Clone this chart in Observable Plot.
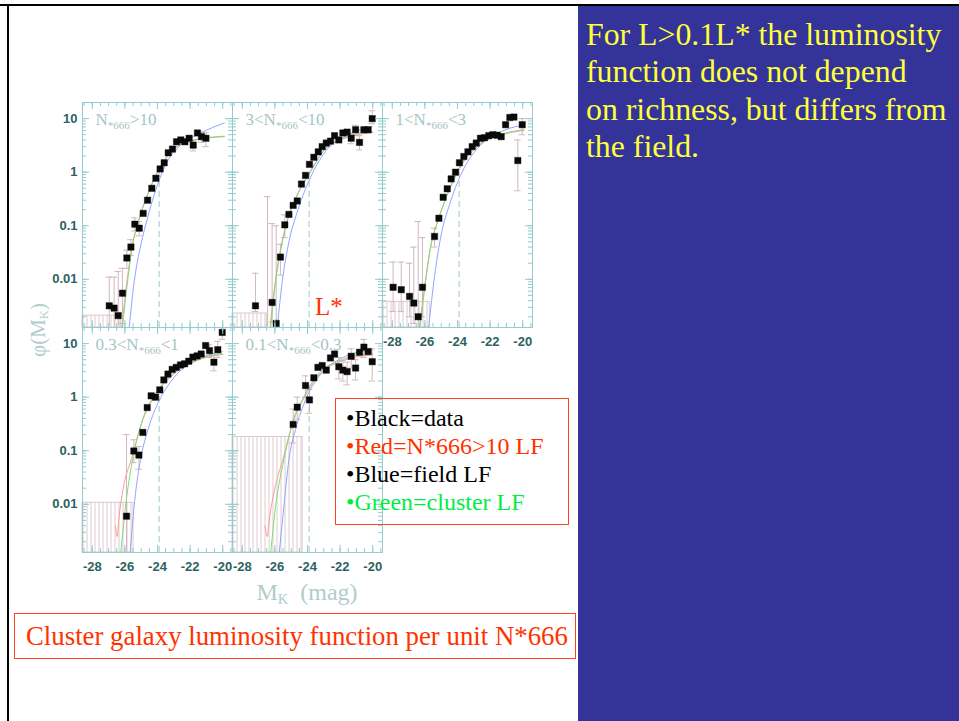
<!DOCTYPE html>
<html>
<head>
<meta charset="utf-8">
<script src="https://cdn.jsdelivr.net/npm/d3@7"></script>
<script src="https://cdn.jsdelivr.net/npm/@observablehq/plot@0.6"></script>
<style>
html,body{margin:0;padding:0;background:#fff;}
#slide{position:relative;width:959px;height:721px;overflow:hidden;background:#fff;font-family:"Liberation Serif","Times New Roman",serif;}
#topline{position:absolute;left:0;top:4px;width:959px;height:2px;background:#000;}
#leftline{position:absolute;left:7px;top:4px;width:2px;height:717px;background:#000;}
#bluepanel{position:absolute;left:578px;top:6px;width:381px;height:715px;background:#333399;}
#bluetext{position:absolute;left:8px;top:9.5px;color:#ffff3c;font-size:31.8px;line-height:37.5px;white-space:nowrap;}
.panel{position:absolute;}
#ylabel{position:absolute;left:41px;top:330px;transform:translate(-50%,-50%) rotate(-90deg);font-size:21px;color:#b0cccc;white-space:nowrap;line-height:24px;}
#xlabel{position:absolute;left:307px;top:580px;transform:translateX(-50%);font-size:24px;color:#b0cccc;white-space:nowrap;line-height:24px;}
.sub{font-size:0.6em;vertical-align:-0.25em;}
#lstar{position:absolute;left:315px;top:294px;font-size:25px;line-height:25px;color:#ff3300;}
#legend{position:absolute;left:335px;top:398px;width:234px;height:127px;box-sizing:border-box;border:1px solid #ff4422;padding:5px 0 0 10px;font-size:24px;line-height:28.1px;white-space:nowrap;}
#caption{position:absolute;left:14px;top:613px;width:562px;height:46px;box-sizing:border-box;border:1px solid #ff4422;padding-left:11px;font-size:26.8px;line-height:44px;color:#ff3300;white-space:nowrap;}
</style>
</head>
<body>
<svg width="0" height="0" style="position:absolute">
  <defs>
    <pattern id="hatch" patternUnits="userSpaceOnUse" width="4" height="10">
      <line x1="2" y1="0" x2="2" y2="10" stroke="#dcc4ca" stroke-width="0.9"></line>
    </pattern>
  </defs>
</svg>
<div id="slide">
  <div id="topline"></div>
  <div id="leftline"></div>
  <div id="bluepanel"><div id="bluetext">For L&gt;0.1L* the luminosity<br>function does not depend<br>on richness, but differs from<br>the field.</div></div>
  <div id="panels"></div>
  <div id="ylabel">φ(M<span class="sub">K</span>)</div>
  <div id="xlabel">M<span class="sub">K</span>&nbsp;&nbsp;(mag)</div>
  <div id="lstar">L*</div>
  <div id="legend">
    <div style="color:#000">•Black=data</div>
    <div style="color:#ff3300">•Red=N*666&gt;10 LF</div>
    <div style="color:#000">•Blue=field LF</div>
    <div style="color:#00ee44">•Green=cluster LF</div>
  </div>
  <div id="caption">Cluster galaxy luminosity function per unit N*666</div>
</div>
<script>
// ---------- data ----------
const panelLabels = ["N_*666>10", "3<N_*666<10", "1<N_*666<3", "0.3<N_*666<1", "0.1<N_*666<0.3"];
const xTickLabels = [-28, -26, -24, -22, -20];
const yTickLabels = [0.01, 0.1, 1, 10];
const xDomain = [-28.6, -19.4];
const yDomain = [0.00126, 20];
const LSTAR = -23.9;
const lstarTop = 1.0;

// panel 1: N*666 > 10
const p1Mag = [-26.96,-26.66,-26.41,-26.15,-25.88,-25.63,-25.39,-25.12,-24.88,-24.61,-24.35,-24.10,-23.84,-23.59,-23.34,-23.08,-22.83,-22.57,-22.32,-22.06,-21.81,-21.55,-21.30,-21.03];
const p1Phi = [0.0032,0.0029,0.0021,0.0055,0.025,0.040,0.107,0.090,0.17,0.30,0.50,0.77,1.15,1.5,2.3,2.7,3.7,4.0,3.7,4.3,3.2,5.4,4.6,4.3];
const p1ErrMag = [-26.96,-26.66,-26.41,-26.15,-25.88,-25.63,-25.39,-25.12,-21.81,-21.30,-21.03];
const p1ErrLo  = [0.0013,0.0013,0.0013,0.0015,0.016,0.028,0.08,0.065,2.5,3.6,3.0];
const p1ErrHi  = [0.011,0.011,0.014,0.016,0.035,0.055,0.14,0.12,4.0,5.6,5.5];
const p1Hatch = {x2: -26.25, top: 0.0021};
const p1BlueMag = [-25.78,-25.43,-25.02,-24.61,-24.2,-23.39,-22.57,-21.34,-19.9];
const p1BluePhi = [0.0009,0.009,0.044,0.14,0.38,1.6,3.2,5.4,8.3];
const p1GreenMag = [-26.2,-25.84,-25.53,-25.23,-24.61,-23.79,-22.98,-21.75,-19.9];
const p1GreenPhi = [0.0009,0.009,0.044,0.105,0.38,1.3,2.8,4.0,4.7];
const p1RedMag = [-26.25,-25.9,-25.55,-25.2,-24.6,-23.8,-23.0,-21.8,-19.9];
const p1RedPhi = [0.0009,0.008,0.042,0.11,0.39,1.3,2.7,3.9,4.6];

// panel 2: 3 < N*666 < 10
const p2Mag = [-27.19,-26.17,-25.92,-25.66,-25.39,-25.14,-24.88,-24.63,-24.37,-24.12,-23.88,-23.61,-23.34,-23.10,-22.85,-22.59,-22.34,-22.08,-21.83,-21.57,-21.32,-21.05,-20.81,-20.54,-20.28,-20.03];
const p2Phi = [0.0032,0.0037,0.0015,0.026,0.104,0.163,0.24,0.29,0.60,0.87,1.4,1.9,2.4,3.0,3.5,3.8,4.8,4.0,5.4,5.6,4.3,6.2,3.6,6.2,6.2,10];
const p2ErrMag = [-27.19,-26.45,-26.17,-25.92,-25.66,-25.39,-21.32,-21.05,-20.81,-20.03];
const p2ErrLo  = [0.0025,0.0013,0.0016,0.0013,0.012,0.06,3.4,4.8,2.6,8];
const p2ErrHi  = [0.013,0.35,0.11,0.1,0.045,0.16,5.2,7.5,4.8,14];
const p2Hatch = {x2: -26.5, top: 0.0023};
const p2BlueMag = [-25.9,-25.55,-25.14,-24.63,-23.92,-22.89,-21.67,-20.03];
const p2BluePhi = [0.0009,0.009,0.05,0.18,0.68,2.45,4.7,7.1];
const p2GreenMag = [-26.3,-25.96,-25.66,-25.25,-24.63,-23.92,-22.89,-21.67,-20.03];
const p2GreenPhi = [0.0009,0.009,0.033,0.12,0.38,0.89,2.8,4.5,5.8];
const p2RedMag = [-26.35,-26.0,-25.7,-25.3,-24.65,-23.95,-22.9,-21.7,-20.0];
const p2RedPhi = [0.0009,0.008,0.03,0.11,0.36,0.9,2.7,4.3,5.5];

// panel 3: 1 < N*666 < 3
const p3Mag = [-27.95,-27.45,-26.94,-26.68,-26.41,-26.15,-25.41,-25.14,-24.88,-24.63,-24.39,-24.12,-23.88,-23.61,-23.36,-23.10,-22.85,-22.59,-22.34,-22.08,-21.83,-21.57,-21.32,-21.05,-20.79,-20.54,-20.30,-20.03];
const p3Phi = [0.0071,0.0064,0.0048,0.0036,0.0020,0.0071,0.063,0.138,0.34,0.49,0.75,1.0,1.5,1.96,2.4,3.0,3.5,4.3,4.4,4.8,5.0,4.9,4.6,7.7,10.5,10.7,1.65,7.7];
const p3ErrMag = [-27.95,-27.45,-26.94,-26.68,-26.41,-26.15,-25.41,-20.30,-20.03];
const p3ErrLo  = [0.0025,0.0025,0.002,0.0015,0.0013,0.002,0.04,0.45,5];
const p3ErrHi  = [0.021,0.021,0.02,0.04,0.12,0.06,0.09,4,10];
const p3Hatch = {x2: -25.7, top: 0.0038};
const p3BlueMag = [-25.82,-25.45,-25.04,-24.43,-23.61,-22.59,-21.05,-19.93];
const p3BluePhi = [0.0009,0.009,0.059,0.28,1.17,3.2,6.2,7.6];
const p3GreenMag = [-26.35,-25.96,-25.66,-25.14,-24.39,-23.61,-22.59,-21.05,-19.93];
const p3GreenPhi = [0.0009,0.009,0.038,0.138,0.58,1.7,3.5,5.4,6.2];
const p3RedMag = [-26.4,-26.0,-25.7,-25.2,-24.4,-23.6,-22.6,-21.05,-19.93];
const p3RedPhi = [0.0009,0.008,0.034,0.125,0.55,1.6,3.3,5.2,6.0];

// panel 4: 0.3 < N*666 < 1
const p4Mag = [-25.90,-25.45,-25.14,-24.90,-24.63,-24.39,-24.12,-23.86,-23.61,-23.36,-23.10,-22.85,-22.59,-22.34,-22.08,-21.83,-21.57,-21.32,-21.05,-20.81,-20.54,-20.30,-20.03];
const p4Phi = [0.0060,0.099,0.083,0.22,0.64,1.06,1.0,1.37,2.1,2.7,3.3,3.6,4.0,4.2,4.7,5.6,5.9,6.4,9.2,7.4,4.5,7.7,16.2];
const p4ErrMag = [-25.90,-25.45,-25.14,-20.81,-20.54,-20.30,-20.03];
const p4ErrLo  = [0.0013,0.06,0.045,5.5,3.1,5.5,12];
const p4ErrHi  = [0.2,0.16,0.12,9.5,6,11,20];
const p4Hatch = {x2: -25.47, top: 0.0107};
const p4BlueMag = [-25.72,-25.35,-25.04,-24.53,-23.92,-23.0,-21.57,-20.03];
const p4BluePhi = [0.0009,0.016,0.068,0.28,0.83,2.3,5.0,7.1];
const p4GreenMag = [-26.3,-25.86,-25.45,-24.84,-24.02,-23.0,-21.57,-20.03];
const p4GreenPhi = [0.0009,0.016,0.089,0.44,1.3,2.8,5.0,6.6];
const p4RedMag = [-26.58,-26.47,-26.38,-26.1,-25.6,-24.9,-24.0,-23.0,-21.6,-20.0];
const p4RedPhi = [0.004,0.0025,0.005,0.02,0.07,0.38,1.25,2.7,4.8,6.3];

// panel 5: 0.1 < N*666 < 0.3
const p5Mag = [-24.88,-24.63,-24.12,-23.88,-23.61,-23.36,-23.10,-22.85,-22.59,-22.34,-22.08,-21.83,-21.57,-21.32,-21.05,-20.81,-20.54,-20.28,-20.03];
const p5Phi = [0.31,0.65,1.65,0.89,2.3,3.6,3.9,3.2,5.4,6.4,3.7,3.2,3.0,5.8,3.5,6.9,8.6,7.1,4.6];
const p5ErrMag = [-24.88,-24.63,-24.12,-23.88,-22.08,-21.83,-21.57,-21.32,-21.05,-20.54,-20.03];
const p5ErrLo  = [0.14,0.38,1.0,0.5,2.2,2.0,1.7,3.5,2.1,5.5,2.0];
const p5ErrHi  = [0.6,1.0,2.5,1.4,5.5,4.8,4.5,8,5,12,8];
const p5Hatch = {x2: -24.3, top: 0.18};
const p5BlueMag = [-25.78,-25.45,-25.14,-24.73,-24.12,-23.30,-21.87,-20.03];
const p5BluePhi = [0.0009,0.009,0.068,0.25,0.89,2.45,5.4,7.6];
const p5GreenMag = [-26.3,-25.96,-25.45,-24.94,-24.12,-23.30,-21.87,-20.03];
const p5GreenPhi = [0.0009,0.009,0.068,0.32,1.17,2.8,5.0,6.6];
const p5RedMag = [-26.6,-26.47,-26.35,-26.0,-25.5,-24.95,-24.1,-23.3,-21.9,-20.0];
const p5RedPhi = [0.004,0.0025,0.005,0.02,0.07,0.3,1.1,2.6,4.7,6.2];

// ---------- layout / style ----------
const colLeft = [82, 232, 382];
const rowTop = [102, 327];
const W = 150, H = 225, ML = 45, MR = 6, MT = 6, MB = 28;
const frameColor = "#92cccc";
const labelColor = "#2c6262";
const errColor = "#ccb0b6";
const hatchColor = "#d6bcc2";
const dashColor = "#9cc7c7";
const blueC = "#8ea6ff", greenC = "#7ddc7d", redC = "#ff9a9a";

const panels = [
  {label: panelLabels[0], mag: p1Mag, phi: p1Phi, eM: p1ErrMag, eL: p1ErrLo, eH: p1ErrHi, hatch: p1Hatch, bM: p1BlueMag, bP: p1BluePhi, gM: p1GreenMag, gP: p1GreenPhi, rM: p1RedMag, rP: p1RedPhi, col: 0, row: 0, showX: false, showY: true},
  {label: panelLabels[1], mag: p2Mag, phi: p2Phi, eM: p2ErrMag, eL: p2ErrLo, eH: p2ErrHi, hatch: p2Hatch, bM: p2BlueMag, bP: p2BluePhi, gM: p2GreenMag, gP: p2GreenPhi, rM: p2RedMag, rP: p2RedPhi, col: 1, row: 0, showX: false, showY: false},
  {label: panelLabels[2], mag: p3Mag, phi: p3Phi, eM: p3ErrMag, eL: p3ErrLo, eH: p3ErrHi, hatch: p3Hatch, bM: p3BlueMag, bP: p3BluePhi, gM: p3GreenMag, gP: p3GreenPhi, rM: p3RedMag, rP: p3RedPhi, col: 2, row: 0, showX: true, showY: false},
  {label: panelLabels[3], mag: p4Mag, phi: p4Phi, eM: p4ErrMag, eL: p4ErrLo, eH: p4ErrHi, hatch: p4Hatch, bM: p4BlueMag, bP: p4BluePhi, gM: p4GreenMag, gP: p4GreenPhi, rM: p4RedMag, rP: p4RedPhi, col: 0, row: 1, showX: true, showY: true},
  {label: panelLabels[4], mag: p5Mag, phi: p5Phi, eM: p5ErrMag, eL: p5ErrLo, eH: p5ErrHi, hatch: p5Hatch, bM: p5BlueMag, bP: p5BluePhi, gM: p5GreenMag, gP: p5GreenPhi, rM: p5RedMag, rP: p5RedPhi, col: 1, row: 1, showX: true, showY: false}
];

const xMinor = d3.ticks(-28.5, -19.5, 18);
const yMinor = d3.scaleLog().domain(yDomain).ticks();

function zip(ms, vs) { return ms.map((m, i) => ({m, v: vs[i]})); }

function subscriptify(svg) {
  d3.select(svg).selectAll("text").each(function() {
    const t = this.textContent;
    if (!t.includes("_")) return;
    const idx = t.indexOf("_");
    const a = t.slice(0, idx), rest = t.slice(idx + 1);
    const sub = rest.slice(0, 4), b = rest.slice(4);
    const sel = d3.select(this);
    sel.text(null);
    sel.append("tspan").text(a);
    sel.append("tspan").attr("font-size", "0.65em").attr("dy", "4").text(sub);
    sel.append("tspan").attr("dy", "-4").text(b);
  });
}

function buildPanel(p) {
  const pts = zip(p.mag, p.phi);
  const errs = p.eM.map((m, i) => ({m, lo: p.eL[i], hi: p.eH[i]}));
  const axisStyle = {tickSize: 0, tickFormat: d => String(d), label: null, fill: labelColor, fontSize: 13, fontWeight: "bold", fontFamily: "Liberation Sans, Arial, sans-serif"};
  const marks = [
    Plot.rect([p.hatch], {x1: () => xDomain[0], x2: "x2", y1: () => yDomain[0], y2: "top", fill: "url(#hatch)", stroke: hatchColor, strokeWidth: 0.8}),
    Plot.ruleX([LSTAR], {x: d => d, y1: () => yDomain[0], y2: () => lstarTop, stroke: dashColor, strokeDasharray: "6,4"}),
    Plot.ruleX(errs, {x: "m", y1: "lo", y2: "hi", stroke: errColor, strokeWidth: 0.9, clip: true}),
    Plot.ruleY(errs, {y: "hi", x1: d => d.m - 0.2, x2: d => d.m + 0.2, stroke: errColor, strokeWidth: 0.9, clip: true}),
    Plot.ruleY(errs.filter(d => d.lo > yDomain[0] * 1.1), {y: "lo", x1: d => d.m - 0.2, x2: d => d.m + 0.2, stroke: errColor, strokeWidth: 0.9}),
    Plot.line(zip(p.rM, p.rP), {x: "m", y: "v", stroke: redC, strokeWidth: 1, curve: "monotone-x", clip: true}),
    Plot.line(zip(p.bM, p.bP), {x: "m", y: "v", stroke: blueC, strokeWidth: 1, curve: "monotone-x", clip: true}),
    Plot.line(zip(p.gM, p.gP), {x: "m", y: "v", stroke: greenC, strokeWidth: 1, curve: "monotone-x", clip: true}),
    Plot.dot(pts, {x: "m", y: "v", symbol: "square", r: 3.6, fill: "#0a0a0a", stroke: "#0a0a0a", strokeWidth: 0.4}),
    Plot.frame({stroke: frameColor}),
    // inner ticks on all four sides
    Plot.ruleX(xTickLabels, {x: d => d, insetTop: H - 7, stroke: frameColor}),
    Plot.ruleX(xTickLabels, {x: d => d, insetBottom: H - 7, stroke: frameColor}),
    Plot.ruleX(xMinor, {x: d => d, insetTop: H - 4, stroke: frameColor}),
    Plot.ruleX(xMinor, {x: d => d, insetBottom: H - 4, stroke: frameColor}),
    Plot.ruleY(yTickLabels, {y: d => d, insetRight: W - 7, stroke: frameColor}),
    Plot.ruleY(yTickLabels, {y: d => d, insetLeft: W - 7, stroke: frameColor}),
    Plot.ruleY(yMinor, {y: d => d, insetRight: W - 4, stroke: frameColor}),
    Plot.ruleY(yMinor, {y: d => d, insetLeft: W - 4, stroke: frameColor}),
    Plot.text([p.label], {text: d => d, frameAnchor: "top-left", dx: 13, dy: 10, fontSize: 17, fontFamily: "Liberation Serif, Times New Roman, serif", fontWeight: "normal", fill: "#a6c4c4"})
  ];
  if (p.showY) marks.push(Plot.axisY(yTickLabels, {...axisStyle, tickPadding: 5}));
  if (p.showX) marks.push(Plot.axisX(xTickLabels, {...axisStyle, tickPadding: 9}));
  const svg = Plot.plot({
    width: ML + W + MR, height: MT + H + MB,
    marginLeft: ML, marginRight: MR, marginTop: MT, marginBottom: MB,
    x: {type: "linear", domain: xDomain, axis: null},
    y: {type: "log", domain: yDomain, axis: null},
    style: {background: "transparent", overflow: "visible", color: labelColor, fontFamily: "Liberation Sans, Arial, sans-serif", fontSize: "13px", fontWeight: "bold"},
    marks
  });
  subscriptify(svg);
  const wrap = document.createElement("div");
  wrap.className = "panel";
  wrap.style.left = (colLeft[p.col] - ML) + "px";
  wrap.style.top = (rowTop[p.row] - MT) + "px";
  wrap.appendChild(svg);
  return wrap;
}

const host = document.getElementById("panels");
panels.forEach(p => host.appendChild(buildPanel(p)));
</script>
</body>
</html>
